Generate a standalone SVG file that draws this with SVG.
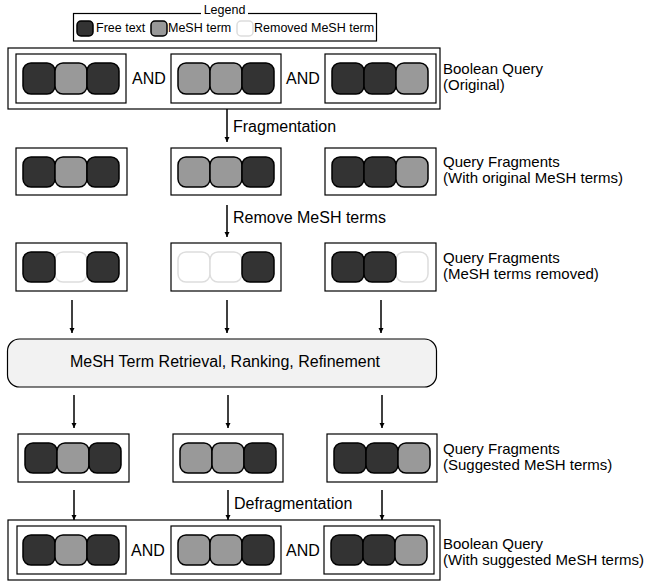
<svg xmlns="http://www.w3.org/2000/svg" width="647" height="588" viewBox="0 0 647 588">
<defs>
<style>
text{font-family:"Liberation Sans",Arial,sans-serif;fill:#000}
.lg{font-size:12.5px}
.lb{font-size:15px}
.md{font-size:16px}
.box{fill:#fff;stroke:#000;stroke-width:1.2}
.d{fill:#333;stroke:#000;stroke-width:1.5}
.g{fill:#999;stroke:#000;stroke-width:1.5}
.w{fill:#fff;stroke:#ddd;stroke-width:1.5}
.ar{stroke:#000;stroke-width:1.5;fill:none;marker-end:url(#ah)}
.proc{fill:#f2f2f2;stroke:#000;stroke-width:1.2}
</style>
<marker id="ah" viewBox="0 0 8 8" refX="8" refY="4" markerWidth="5.5" markerHeight="5.5" orient="auto" markerUnits="userSpaceOnUse">
<path d="M0,0 L8,4 L0,8 Z" fill="#000"/>
</marker>
</defs>
<rect width="647" height="588" fill="#fff"/>

<g id="legend">
<rect x="73.5" y="13.5" width="303" height="27.5" fill="#fff" stroke="#000" stroke-width="1.2"/>
<rect x="201" y="8" width="47" height="10" fill="#fff"/>
<text class="lg" x="224.5" y="14" text-anchor="middle">Legend</text>
<rect class="d" x="77" y="21" width="16" height="15" rx="4"/>
<text class="lg" x="96" y="32">Free text</text>
<rect class="g" x="151" y="21" width="16" height="15" rx="4"/>
<text class="lg" x="168" y="32">MeSH term</text>
<rect class="w" x="237" y="21" width="16" height="15" rx="4"/>
<text class="lg" x="254" y="32">Removed MeSH term</text>
</g>

<g id="query-original">
<rect class="box" x="8" y="48" width="432" height="61"/>
<g id="q1-f1"><rect class="box" x="16" y="54" width="110" height="49"/>
<rect class="d" x="23" y="63" width="32" height="31" rx="8"/><rect class="g" x="55" y="63" width="32" height="31" rx="8"/><rect class="d" x="87" y="63" width="32" height="31" rx="8"/></g>
<text class="md" x="132" y="84">AND</text>
<g id="q1-f2"><rect class="box" x="171" y="54" width="110" height="49"/>
<rect class="g" x="178" y="63" width="32" height="31" rx="8"/><rect class="g" x="210" y="63" width="32" height="31" rx="8"/><rect class="d" x="242" y="63" width="32" height="31" rx="8"/></g>
<text class="md" x="286" y="84">AND</text>
<g id="q1-f3"><rect class="box" x="325" y="54" width="111" height="49"/>
<rect class="d" x="332" y="63" width="32" height="31" rx="8"/><rect class="d" x="364" y="63" width="32" height="31" rx="8"/><rect class="g" x="396" y="63" width="32" height="31" rx="8"/></g>
<text class="lb" x="443" y="74">Boolean Query</text>
<text class="lb" x="443" y="90">(Original)</text>
</g>

<g id="fragments-original">
<g id="f2-1"><rect class="box" x="16" y="148" width="111" height="47"/>
<rect class="d" x="23" y="157" width="32" height="30" rx="8"/><rect class="g" x="55" y="157" width="32" height="30" rx="8"/><rect class="d" x="87" y="157" width="32" height="30" rx="8"/></g>
<g id="f2-2"><rect class="box" x="171" y="148" width="110" height="47"/>
<rect class="g" x="178" y="157" width="32" height="30" rx="8"/><rect class="g" x="210" y="157" width="32" height="30" rx="8"/><rect class="d" x="242" y="157" width="32" height="30" rx="8"/></g>
<g id="f2-3"><rect class="box" x="325" y="148" width="111" height="47"/>
<rect class="d" x="332" y="157" width="32" height="30" rx="8"/><rect class="d" x="364" y="157" width="32" height="30" rx="8"/><rect class="g" x="396" y="157" width="32" height="30" rx="8"/></g>
<text class="lb" x="443" y="167">Query Fragments</text>
<text class="lb" x="443" y="183">(With original MeSH terms)</text>
</g>

<g id="fragments-removed">
<g id="f3-1"><rect class="box" x="16" y="243" width="111" height="48"/>
<rect class="w" x="55" y="252" width="32" height="30" rx="8"/><rect class="d" x="23" y="252" width="32" height="30" rx="8"/><rect class="d" x="87" y="252" width="32" height="30" rx="8"/></g>
<g id="f3-2"><rect class="box" x="171" y="243" width="110" height="48"/>
<rect class="w" x="178" y="252" width="32" height="30" rx="8"/><rect class="w" x="210" y="252" width="32" height="30" rx="8"/><rect class="d" x="242" y="252" width="32" height="30" rx="8"/></g>
<g id="f3-3"><rect class="box" x="325" y="243" width="111" height="48"/>
<rect class="w" x="396" y="252" width="32" height="30" rx="8"/><rect class="d" x="332" y="252" width="32" height="30" rx="8"/><rect class="d" x="364" y="252" width="32" height="30" rx="8"/></g>
<text class="lb" x="443" y="263">Query Fragments</text>
<text class="lb" x="443" y="279">(MeSH terms removed)</text>
</g>

<g id="process">
<rect class="proc" x="7.5" y="339" width="429" height="48" rx="12"/>
<text class="md" x="225" y="367" text-anchor="middle">MeSH Term Retrieval, Ranking, Refinement</text>
</g>

<g id="fragments-suggested">
<g id="f4-1"><rect class="box" x="18" y="434" width="111" height="48"/>
<rect class="d" x="25" y="443" width="32" height="30" rx="8"/><rect class="g" x="57" y="443" width="32" height="30" rx="8"/><rect class="d" x="89" y="443" width="32" height="30" rx="8"/></g>
<g id="f4-2"><rect class="box" x="173" y="434" width="110" height="48"/>
<rect class="g" x="180" y="443" width="32" height="30" rx="8"/><rect class="g" x="212" y="443" width="32" height="30" rx="8"/><rect class="d" x="244" y="443" width="32" height="30" rx="8"/></g>
<g id="f4-3"><rect class="box" x="327" y="434" width="110" height="48"/>
<rect class="d" x="334" y="443" width="32" height="30" rx="8"/><rect class="d" x="366" y="443" width="32" height="30" rx="8"/><rect class="g" x="398" y="443" width="32" height="30" rx="8"/></g>
<text class="lb" x="443" y="454">Query Fragments</text>
<text class="lb" x="443" y="470">(Suggested MeSH terms)</text>
</g>

<g id="query-suggested">
<rect class="box" x="8" y="520" width="432" height="60"/>
<g id="q5-f1"><rect class="box" x="17" y="526" width="109" height="48"/>
<rect class="d" x="23" y="535" width="32" height="30" rx="8"/><rect class="g" x="55" y="535" width="32" height="30" rx="8"/><rect class="d" x="87" y="535" width="32" height="30" rx="8"/></g>
<text class="md" x="131" y="556">AND</text>
<g id="q5-f2"><rect class="box" x="171" y="526" width="110" height="48"/>
<rect class="g" x="178" y="535" width="32" height="30" rx="8"/><rect class="g" x="210" y="535" width="32" height="30" rx="8"/><rect class="d" x="242" y="535" width="32" height="30" rx="8"/></g>
<text class="md" x="286" y="556">AND</text>
<g id="q5-f3"><rect class="box" x="324" y="526" width="110" height="48"/>
<rect class="d" x="331" y="535" width="32" height="30" rx="8"/><rect class="d" x="363" y="535" width="32" height="30" rx="8"/><rect class="g" x="395" y="535" width="32" height="30" rx="8"/></g>
<text class="lb" x="443" y="549">Boolean Query</text>
<text class="lb" x="443" y="565">(With suggested MeSH terms)</text>
</g>

<g id="connectors">
<line class="ar" x1="227" y1="109" x2="227" y2="142"/>
<text class="md" x="233" y="132">Fragmentation</text>
<line class="ar" x1="227" y1="205" x2="227" y2="237"/>
<text class="md" x="233" y="223">Remove MeSH terms</text>
<line class="ar" x1="72" y1="300" x2="72" y2="333"/>
<line class="ar" x1="227" y1="300" x2="227" y2="333"/>
<line class="ar" x1="381" y1="300" x2="381" y2="333"/>
<line class="ar" x1="74" y1="395" x2="74" y2="428"/>
<line class="ar" x1="228" y1="395" x2="228" y2="428"/>
<line class="ar" x1="382" y1="395" x2="382" y2="428"/>
<line class="ar" x1="74" y1="490" x2="74" y2="520"/>
<line class="ar" x1="228" y1="490" x2="228" y2="520"/>
<line class="ar" x1="382" y1="490" x2="382" y2="520"/>
<text class="md" x="234" y="509">Defragmentation</text>
</g>
</svg>
